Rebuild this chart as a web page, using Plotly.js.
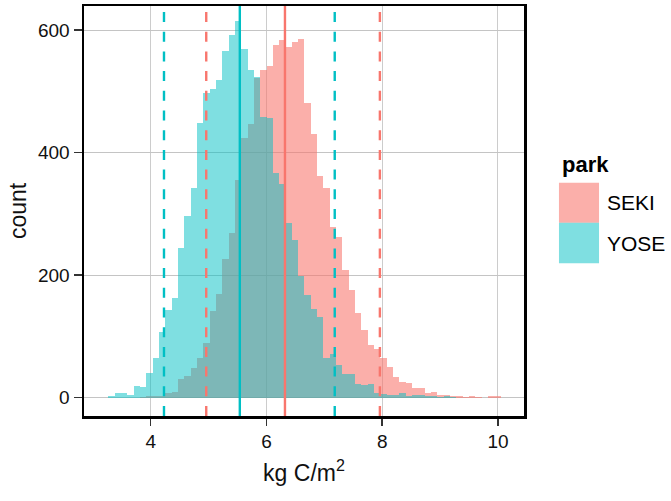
<!DOCTYPE html>
<html>
<head>
<meta charset="utf-8">
<script src="https://cdn.plot.ly/plotly-3.0.1.min.js"></script>
<style>html,body{margin:0;padding:0;background:#fff;}#chart{width:671px;height:501px;}</style>
</head>
<body>
<div id="chart"></div>
<script>
// Histogram bins (kg C/m^2): first bin left edge and bin width
const binStart = 3.1596;
const binWidth = 0.1093;

// Counts per bin
const sekiCounts = [0,0,0,0,0,0,1,2,2,3,8,10,30,35,49,65,90,141,169,227,268,356,424,446,521,535,542,576,584,573,580,586,481,430,361,343,279,262,208,175,138,111,86,80,64,50,33,25,24,15,15,8,9,4,5,3,2,1,2,1,0,2,2];
const yoseCounts = [0,3,8,8,5,19,18,41,65,107,143,163,244,297,342,449,498,503,519,565,592,614,569,535,523,458,456,367,349,285,258,198,167,144,132,65,71,53,38,38,23,21,22,8,6,4,5,8,2,4,4,2,2,1,2,1,0,0,0,0,0,0,0];

// Reference lines: mean (solid) and interval bounds (dashed)
const parks = ["SEKI", "YOSE"];
const parkMeans = [6.32, 5.54];
const parkLow = [4.96, 4.23];
const parkHigh = [7.96, 7.18];

const lineColors = ["#F8766D", "#00BFC4"];
const fillColors = ["rgba(248,118,109,0.58)", "rgba(0,191,196,0.5)"];

const binCenters = sekiCounts.map((_, i) => binStart + binWidth * (i + 0.5));

const traces = [sekiCounts, yoseCounts].map((counts, p) => ({
  type: "bar",
  x: binCenters,
  y: counts,
  width: binWidth,
  name: parks[p],
  marker: {color: fillColors[p], line: {width: 0}},
  showlegend: false,
  hoverinfo: "x+y+name"
}));

const shapes = [];
parks.forEach((p, i) => {
  [[parkLow[i], "10px,9.7px"], [parkMeans[i], "solid"], [parkHigh[i], "10px,9.7px"]].forEach(([v, d]) => {
    shapes.push({type: "line", xref: "x", yref: "paper", x0: v, x1: v, y0: 0, y1: 1,
      line: {color: lineColors[i], width: 2.4, dash: d}, layer: "above"});
  });
});

// Legend (drawn manually for ggplot-like large keys)
const legX0 = 1.0795, legX1 = 1.1705;
const legRows = [[0.4715, 0.569], [0.3724, 0.4715]];
const annotations = [{
  text: "<b>park</b>", xref: "paper", yref: "paper", x: 1.081, y: 0.6146,
  xanchor: "left", yanchor: "middle", showarrow: false,
  font: {family: "Liberation Sans, Arial, sans-serif", size: 22, color: "#000"}
}];
parks.forEach((p, i) => {
  shapes.push({type: "rect", xref: "paper", yref: "paper", x0: legX0, x1: legX1,
    y0: legRows[i][0], y1: legRows[i][1], fillcolor: fillColors[i], line: {width: 0}, layer: "above"});
  annotations.push({text: p, xref: "paper", yref: "paper", x: 1.184,
    y: (legRows[i][0] + legRows[i][1]) / 2, xanchor: "left", yanchor: "middle", showarrow: false,
    font: {family: "Liberation Sans, Arial, sans-serif", size: 21, color: "#000"}});
});

const font = {family: "Liberation Sans, Arial, sans-serif", color: "#111"};

const layout = {
  width: 671, height: 501,
  margin: {l: 84, r: 147, t: 6, b: 85, pad: 0},
  paper_bgcolor: "#fff", plot_bgcolor: "#fff",
  barmode: "overlay", bargap: 0,
  showlegend: false,
  font: font,
  xaxis: {
    range: [2.848, 10.45], tickvals: [4, 6, 8, 10], ticktext: ["4", "6", "8", "10"],
    ticks: "outside", ticklen: 7, tickwidth: 1.5, tickcolor: "#333",
    showline: true, linecolor: "#000", linewidth: 2.5, mirror: true,
    showgrid: true, gridcolor: "#cccccc", gridwidth: 1, zeroline: false,
    tickfont: {size: 19, color: "#111"},
    title: {text: "kg C/m<sup>2</sup>", font: {size: 23, color: "#111"}, standoff: 14}
  },
  yaxis: {
    range: [-29.9, 639.2], tickvals: [0, 200, 400, 600], ticktext: ["0", "200", "400", "600"],
    ticks: "outside", ticklen: 8, tickwidth: 1.5, tickcolor: "#333",
    showline: true, linecolor: "#000", linewidth: 2.5, mirror: true,
    showgrid: true, gridcolor: "#c4c4c4", gridwidth: 1, zeroline: false,
    tickfont: {size: 19, color: "#111"},
    title: {text: "count", font: {size: 23, color: "#111"}, standoff: 5}
  },
  shapes: shapes,
  annotations: annotations
};

Plotly.newPlot("chart", traces, layout, {staticPlot: true, displayModeBar: false});
</script>
</body>
</html>
